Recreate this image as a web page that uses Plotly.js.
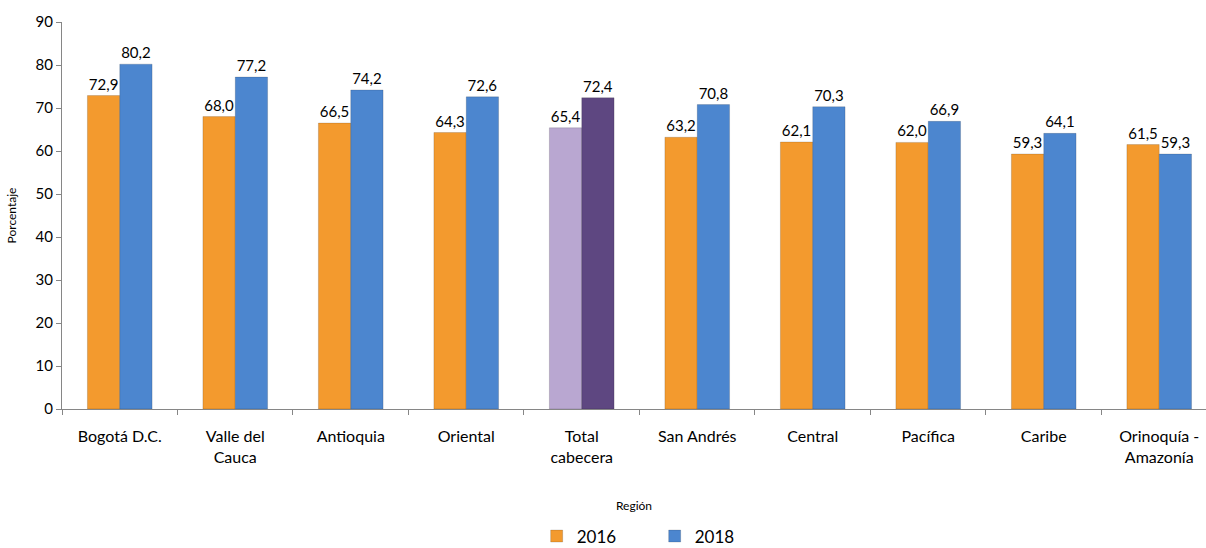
<!DOCTYPE html>
<html>
<head>
<meta charset="utf-8">
<script src="https://cdn.plot.ly/plotly-3.0.1.min.js"></script>
<style>
	body { margin: 0; background: #fff; }
	#chart { width: 1206px; height: 548px; }
</style>
</head>
<body>
<div id="chart"></div>
<script>
// Regions (x categories)
var arr_region = ['Bogotá D.C.', 'Valle del<br>Cauca', 'Antioquia', 'Oriental', 'Total<br>cabecera',
	'San Andrés', 'Central', 'Pacífica', 'Caribe', 'Orinoquía -<br>Amazonía'];
// Percentages per year
var arr_2016 = [72.9, 68.0, 66.5, 64.3, 65.4, 63.2, 62.1, 62.0, 59.3, 61.5];
var arr_2018 = [80.2, 77.2, 74.2, 72.6, 72.4, 70.8, 70.3, 66.9, 64.1, 59.3];
var arr_ytick = [0, 10, 20, 30, 40, 50, 60, 70, 80, 90];

var font_family = 'Lato, "Open Sans", sans-serif';

function get_colors(arr, base, total){
	return arr.map(function(_, i) { return arr_region[i].indexOf('Total') === 0 ? total : base; });
}

function get_trace_bar(arr_y, name, base, total){
	return {
		x: arr_region,
		y: arr_y,
		name: name,
		type: 'bar',
		texttemplate: '%{y:.1f}',
		textposition: 'outside',
		cliponaxis: false,
		textfont: { family: font_family, size: 15, color: '#000' },
		marker: {
			color: get_colors(arr_y, base, total),
			line: { color: 'rgba(0,0,0,0.15)', width: 1 }
		}
	};
}

var data = [
	get_trace_bar(arr_2016, '2016', '#F39A2E', '#B9A7D1'),
	get_trace_bar(arr_2018, '2018', '#4C86CF', '#5E4781')
];

var layout = {
	width: 1206,
	height: 548,
	separators: ',.',
	font: { family: font_family, size: 16, color: '#000' },
	paper_bgcolor: '#fff',
	plot_bgcolor: '#fff',
	margin: { l: 62, r: 0, t: 22, b: 139 },
	barmode: 'group',
	bargap: 0.44,
	bargroupgap: 0,
	showlegend: true,
	legend: {
		orientation: 'h',
		x: 0.445, xanchor: 'left',
		xref: 'container',
		y: 0.021, yanchor: 'middle',
		yref: 'container',
		font: { size: 17 },
		traceorder: 'normal',
		itemwidth: 30,
		entrywidth: 73
	},
	xaxis: {
		title: { text: 'Región', font: { size: 12 }, standoff: 36 },
		automargin: false,
		range: [-0.5, 9.405],
		showline: true,
		linecolor: '#868686',
		ticks: 'outside',
		tickcolor: '#868686',
		ticklen: 5,
		ticklabelstandoff: 13,
		tickson: 'boundaries',
		showgrid: false,
		zeroline: false
	},
	yaxis: {
		title: { text: 'Porcentaje', font: { size: 12 }, standoff: 16 },
		automargin: false,
		range: [0, 90],
		tickvals: arr_ytick,
		showline: true,
		linecolor: '#868686',
		ticks: 'outside',
		tickcolor: '#868686',
		ticklen: 5,
		showgrid: false,
		zeroline: false,
		tickfont: { size: 15 }
	}
};

Plotly.newPlot('chart', data, layout, { displayModeBar: false, staticPlot: true });
</script>
</body>
</html>
